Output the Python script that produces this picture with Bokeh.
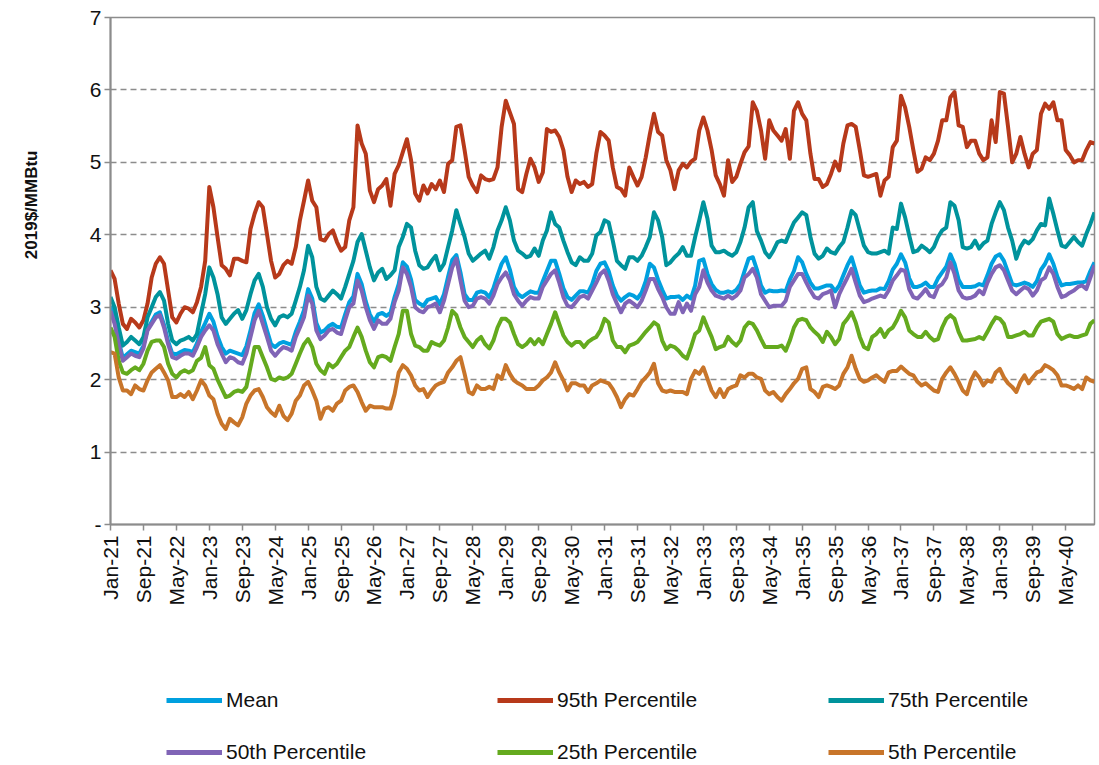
import math
from bokeh.plotting import figure
from bokeh.layouts import column
from bokeh.models import Range1d, FixedTicker, Legend, LegendItem
from bokeh.embed import file_html
from bokeh.resources import INLINE

# Monthly series, Jan-21 .. Dec-40 (one row per year), 2019$/MMBtu
mean = [
    3.02, 2.82, 2.53, 2.30, 2.35, 2.40, 2.38, 2.36, 2.47, 2.70, 2.80, 2.90,
    2.93, 2.76, 2.53, 2.36, 2.35, 2.38, 2.41, 2.40, 2.38, 2.50, 2.66, 2.78,
    2.91, 2.80, 2.60, 2.45, 2.36, 2.40, 2.38, 2.36, 2.34, 2.46, 2.68, 2.92,
    3.04, 2.88, 2.68, 2.49, 2.45, 2.50, 2.52, 2.50, 2.48, 2.66, 2.80, 2.96,
    3.25, 3.12, 2.78, 2.65, 2.68, 2.74, 2.77, 2.73, 2.72, 2.90, 3.07, 3.15,
    3.46, 3.32, 3.08, 2.90, 2.80, 2.90, 2.92, 2.88, 2.92, 3.14, 3.32, 3.62,
    3.56, 3.38, 3.10, 3.05, 3.02, 3.10, 3.12, 3.14, 3.04, 3.18, 3.42, 3.65,
    3.72, 3.48, 3.18, 3.10, 3.10, 3.20, 3.22, 3.20, 3.14, 3.26, 3.44, 3.60,
    3.69, 3.52, 3.28, 3.18, 3.14, 3.18, 3.22, 3.20, 3.20, 3.36, 3.50, 3.64,
    3.64, 3.46, 3.26, 3.14, 3.10, 3.16, 3.22, 3.22, 3.20, 3.32, 3.50, 3.60,
    3.62, 3.50, 3.30, 3.16, 3.09, 3.14, 3.18, 3.16, 3.12, 3.20, 3.36, 3.60,
    3.55, 3.38, 3.24, 3.12, 3.14, 3.14, 3.15, 3.10, 3.16, 3.12, 3.30, 3.64,
    3.66, 3.46, 3.32, 3.24, 3.20, 3.20, 3.22, 3.20, 3.24, 3.32, 3.50, 3.67,
    3.69, 3.52, 3.30, 3.20, 3.23, 3.22, 3.22, 3.23, 3.22, 3.38, 3.50, 3.69,
    3.62, 3.46, 3.34, 3.26, 3.26, 3.28, 3.30, 3.30, 3.22, 3.30, 3.44, 3.58,
    3.69, 3.50, 3.30, 3.20, 3.22, 3.23, 3.23, 3.26, 3.25, 3.36, 3.52, 3.60,
    3.73, 3.62, 3.40, 3.28, 3.28, 3.30, 3.34, 3.28, 3.28, 3.40, 3.48, 3.56,
    3.73, 3.60, 3.38, 3.28, 3.28, 3.28, 3.29, 3.32, 3.30, 3.44, 3.60, 3.70,
    3.73, 3.64, 3.48, 3.32, 3.30, 3.32, 3.34, 3.32, 3.28, 3.36, 3.52, 3.60,
    3.73, 3.60, 3.42, 3.30, 3.32, 3.32, 3.33, 3.34, 3.34, 3.36, 3.50, 3.62,
]

p95 = [
    3.51, 3.39, 3.05, 2.77, 2.70, 2.84, 2.79, 2.72, 2.82, 3.05, 3.41, 3.60,
    3.69, 3.60, 3.23, 2.86, 2.79, 2.91, 3.00, 2.98, 2.93, 3.07, 3.28, 3.64,
    4.66, 4.38, 3.97, 3.58, 3.53, 3.44, 3.67, 3.67, 3.64, 3.62, 4.08, 4.29,
    4.45, 4.38, 4.01, 3.64, 3.41, 3.46, 3.58, 3.64, 3.60, 3.83, 4.20, 4.47,
    4.75, 4.47, 4.38, 3.94, 3.92, 4.01, 4.06, 3.90, 3.78, 3.83, 4.20, 4.38,
    5.51, 5.26, 5.12, 4.61, 4.45, 4.63, 4.68, 4.77, 4.40, 4.84, 4.96, 5.14,
    5.32, 5.03, 4.57, 4.47, 4.68, 4.57, 4.70, 4.63, 4.75, 4.59, 4.98, 5.03,
    5.49, 5.51, 5.17, 4.80, 4.68, 4.59, 4.82, 4.77, 4.75, 4.77, 4.93, 5.49,
    5.85, 5.69, 5.53, 4.63, 4.59, 4.84, 5.05, 4.93, 4.73, 4.86, 5.46, 5.42,
    5.44, 5.35, 5.17, 4.80, 4.59, 4.75, 4.70, 4.73, 4.66, 4.70, 5.12, 5.42,
    5.37, 5.30, 4.93, 4.66, 4.63, 4.54, 4.93, 4.80, 4.68, 4.80, 5.07, 5.39,
    5.67, 5.42, 5.37, 5.03, 4.89, 4.63, 4.89, 4.98, 4.93, 5.01, 5.05, 5.44,
    5.62, 5.44, 5.17, 4.82, 4.70, 4.54, 5.03, 4.73, 4.80, 4.98, 5.14, 5.22,
    5.83, 5.71, 5.44, 5.05, 5.58, 5.44, 5.37, 5.30, 5.46, 5.05, 5.71, 5.83,
    5.67, 5.58, 5.12, 4.77, 4.77, 4.66, 4.70, 4.84, 5.01, 4.89, 5.26, 5.51,
    5.53, 5.49, 5.17, 4.82, 4.80, 4.82, 4.84, 4.54, 4.75, 4.80, 5.21, 5.30,
    5.92, 5.76, 5.49, 5.17, 4.87, 4.91, 5.07, 5.03, 5.12, 5.30, 5.58, 5.58,
    5.90, 5.97, 5.51, 5.49, 5.21, 5.30, 5.30, 5.12, 5.03, 5.07, 5.58, 5.28,
    5.97, 5.95, 5.49, 5.00, 5.12, 5.35, 5.12, 4.93, 5.12, 5.17, 5.67, 5.81,
    5.74, 5.83, 5.58, 5.58, 5.17, 5.10, 5.00, 5.03, 5.03, 5.17, 5.28, 5.26,
]

p75 = [
    3.14, 3.00, 2.72, 2.47, 2.52, 2.59, 2.54, 2.49, 2.59, 2.86, 3.00, 3.14,
    3.21, 3.09, 2.77, 2.54, 2.49, 2.54, 2.56, 2.59, 2.54, 2.63, 2.91, 3.18,
    3.55, 3.41, 3.18, 2.86, 2.77, 2.84, 2.91, 2.96, 2.84, 2.96, 3.18, 3.37,
    3.46, 3.28, 3.00, 2.84, 2.75, 2.86, 2.89, 2.86, 2.91, 3.09, 3.28, 3.51,
    3.85, 3.69, 3.28, 3.12, 3.09, 3.16, 3.23, 3.18, 3.12, 3.28, 3.46, 3.64,
    3.90, 4.01, 3.78, 3.55, 3.37, 3.48, 3.53, 3.39, 3.44, 3.51, 3.83, 3.97,
    4.15, 4.10, 3.78, 3.58, 3.53, 3.55, 3.64, 3.71, 3.51, 3.60, 3.83, 4.06,
    4.34, 4.15, 3.97, 3.74, 3.64, 3.69, 3.74, 3.78, 3.67, 3.83, 4.06, 4.20,
    4.38, 4.20, 3.92, 3.78, 3.74, 3.69, 3.71, 3.81, 3.71, 3.92, 4.06, 4.31,
    4.15, 4.10, 3.92, 3.76, 3.62, 3.58, 3.69, 3.64, 3.64, 3.74, 3.99, 4.04,
    4.20, 4.17, 3.92, 3.64, 3.58, 3.53, 3.69, 3.69, 3.64, 3.71, 3.83, 3.97,
    4.31, 4.20, 3.97, 3.58, 3.62, 3.69, 3.74, 3.83, 3.71, 3.71, 3.97, 4.20,
    4.45, 4.22, 3.85, 3.76, 3.76, 3.78, 3.74, 3.71, 3.76, 3.90, 4.10, 4.38,
    4.45, 4.05, 3.92, 3.76, 3.69, 3.78, 3.90, 3.92, 3.90, 4.04, 4.17, 4.24,
    4.31, 4.27, 3.97, 3.74, 3.67, 3.71, 3.81, 3.76, 3.74, 3.83, 3.90, 4.10,
    4.33, 4.27, 4.06, 3.85, 3.76, 3.74, 3.74, 3.76, 3.78, 3.74, 4.10, 4.08,
    4.43, 4.24, 3.99, 3.76, 3.78, 3.85, 3.81, 3.76, 3.83, 3.97, 4.06, 4.10,
    4.45, 4.40, 4.20, 3.83, 3.81, 3.83, 3.92, 3.81, 3.88, 3.92, 4.15, 4.31,
    4.45, 4.34, 4.10, 3.92, 3.67, 3.83, 3.92, 3.88, 3.94, 4.06, 4.15, 4.13,
    4.50, 4.29, 4.06, 3.85, 3.83, 3.90, 3.97, 3.90, 3.85, 4.01, 4.15, 4.31,
]

p50 = [
    2.95, 2.77, 2.49, 2.26, 2.31, 2.36, 2.33, 2.31, 2.43, 2.68, 2.77, 2.86,
    2.89, 2.72, 2.49, 2.31, 2.29, 2.33, 2.36, 2.36, 2.33, 2.45, 2.59, 2.68,
    2.75, 2.68, 2.49, 2.36, 2.24, 2.31, 2.29, 2.24, 2.22, 2.36, 2.59, 2.82,
    2.95, 2.77, 2.59, 2.40, 2.33, 2.40, 2.45, 2.43, 2.40, 2.59, 2.72, 2.86,
    3.16, 3.05, 2.68, 2.56, 2.61, 2.68, 2.70, 2.65, 2.63, 2.82, 3.00, 3.05,
    3.37, 3.23, 3.00, 2.82, 2.70, 2.82, 2.77, 2.77, 2.84, 3.07, 3.23, 3.55,
    3.46, 3.28, 3.00, 2.95, 2.93, 3.00, 3.02, 3.05, 2.93, 3.09, 3.32, 3.55,
    3.67, 3.37, 3.09, 3.00, 3.02, 3.12, 3.14, 3.12, 3.05, 3.16, 3.32, 3.41,
    3.48, 3.37, 3.18, 3.09, 3.02, 3.09, 3.14, 3.12, 3.12, 3.28, 3.37, 3.46,
    3.51, 3.34, 3.14, 3.02, 3.00, 3.07, 3.14, 3.16, 3.12, 3.23, 3.34, 3.46,
    3.51, 3.37, 3.18, 3.05, 2.93, 3.05, 3.09, 3.05, 3.00, 3.09, 3.23, 3.39,
    3.39, 3.25, 3.14, 3.00, 2.91, 2.91, 3.07, 2.93, 3.05, 2.95, 3.18, 3.28,
    3.51, 3.34, 3.23, 3.16, 3.14, 3.12, 3.16, 3.12, 3.16, 3.23, 3.41, 3.46,
    3.53, 3.41, 3.18, 3.09, 3.00, 3.02, 3.02, 3.02, 3.09, 3.28, 3.37, 3.46,
    3.46, 3.34, 3.23, 3.14, 3.12, 3.18, 3.20, 3.23, 3.00, 3.18, 3.30, 3.41,
    3.53, 3.34, 3.16, 3.07, 3.09, 3.12, 3.14, 3.16, 3.14, 3.23, 3.37, 3.44,
    3.52, 3.50, 3.25, 3.14, 3.12, 3.18, 3.25, 3.16, 3.14, 3.28, 3.32, 3.41,
    3.62, 3.46, 3.23, 3.14, 3.12, 3.13, 3.16, 3.23, 3.18, 3.34, 3.46, 3.55,
    3.58, 3.51, 3.37, 3.23, 3.18, 3.23, 3.28, 3.25, 3.16, 3.23, 3.37, 3.41,
    3.55, 3.46, 3.28, 3.14, 3.16, 3.20, 3.23, 3.28, 3.30, 3.25, 3.41, 3.58,
]

p25 = [
    2.72, 2.59, 2.26, 2.10, 2.08, 2.13, 2.17, 2.13, 2.22, 2.40, 2.52, 2.54,
    2.54, 2.45, 2.22, 2.08, 2.03, 2.10, 2.13, 2.10, 2.13, 2.26, 2.30, 2.45,
    2.20, 2.15, 2.00, 1.88, 1.76, 1.78, 1.83, 1.85, 1.83, 1.90, 2.17, 2.45,
    2.45, 2.31, 2.17, 2.01, 1.99, 2.03, 2.01, 2.03, 2.08, 2.22, 2.36, 2.49,
    2.56, 2.45, 2.22, 2.13, 2.08, 2.22, 2.17, 2.22, 2.31, 2.40, 2.45, 2.59,
    2.72, 2.59, 2.40, 2.24, 2.17, 2.31, 2.33, 2.31, 2.26, 2.45, 2.63, 2.95,
    2.95, 2.63, 2.47, 2.45, 2.40, 2.40, 2.52, 2.49, 2.47, 2.54, 2.72, 2.95,
    2.89, 2.72, 2.59, 2.52, 2.45, 2.54, 2.59, 2.49, 2.43, 2.54, 2.72, 2.84,
    2.84, 2.79, 2.63, 2.49, 2.45, 2.49, 2.56, 2.49, 2.56, 2.49, 2.63, 2.77,
    2.93, 2.77, 2.61, 2.52, 2.47, 2.52, 2.52, 2.45, 2.52, 2.56, 2.59, 2.68,
    2.84, 2.79, 2.54, 2.45, 2.45, 2.38, 2.47, 2.49, 2.52, 2.59, 2.66, 2.72,
    2.79, 2.75, 2.54, 2.42, 2.47, 2.45, 2.40, 2.33, 2.29, 2.45, 2.63, 2.68,
    2.86, 2.72, 2.59, 2.42, 2.45, 2.47, 2.59, 2.52, 2.47, 2.54, 2.72, 2.79,
    2.77, 2.68, 2.56, 2.45, 2.45, 2.45, 2.45, 2.47, 2.40, 2.54, 2.72, 2.82,
    2.84, 2.82, 2.72, 2.66, 2.61, 2.52, 2.66, 2.59, 2.49, 2.56, 2.77, 2.84,
    2.93, 2.79, 2.59, 2.45, 2.42, 2.59, 2.63, 2.70, 2.59, 2.68, 2.72, 2.82,
    2.95, 2.86, 2.68, 2.63, 2.59, 2.59, 2.66, 2.59, 2.54, 2.56, 2.72, 2.84,
    2.89, 2.84, 2.66, 2.54, 2.54, 2.55, 2.56, 2.59, 2.56, 2.66, 2.77, 2.86,
    2.84, 2.77, 2.59, 2.59, 2.61, 2.63, 2.66, 2.61, 2.61, 2.72, 2.80, 2.82,
    2.84, 2.80, 2.63, 2.56, 2.59, 2.61, 2.59, 2.59, 2.61, 2.63, 2.77, 2.82,
]

p05 = [
    2.38, 2.36, 2.03, 1.85, 1.85, 1.80, 1.92, 1.87, 1.85, 1.99, 2.10, 2.15,
    2.20, 2.10, 1.99, 1.76, 1.76, 1.80, 1.76, 1.83, 1.73, 1.85, 1.99, 1.92,
    1.78, 1.73, 1.53, 1.39, 1.32, 1.46, 1.41, 1.37, 1.48, 1.67, 1.78, 1.85,
    1.87, 1.76, 1.62, 1.55, 1.50, 1.64, 1.50, 1.44, 1.53, 1.71, 1.78, 1.92,
    1.97, 1.85, 1.71, 1.46, 1.60, 1.62, 1.57, 1.67, 1.71, 1.85, 1.90, 1.92,
    1.83, 1.69, 1.57, 1.64, 1.62, 1.62, 1.62, 1.60, 1.60, 1.80, 2.10, 2.20,
    2.15, 2.06, 1.92, 1.85, 1.87, 1.76, 1.85, 1.92, 1.95, 1.97, 2.10, 2.17,
    2.26, 2.31, 2.08, 1.83, 1.80, 1.92, 1.87, 1.87, 1.90, 1.87, 2.06, 2.01,
    2.20, 2.08, 1.99, 1.95, 1.92, 1.87, 1.87, 1.87, 1.92, 1.99, 2.03, 2.10,
    2.24, 2.10, 1.99, 1.85, 1.95, 1.95, 1.92, 1.92, 1.83, 1.92, 1.95, 1.99,
    1.97, 1.95, 1.87, 1.76, 1.62, 1.73, 1.80, 1.78, 1.87, 1.97, 2.03, 2.10,
    2.22, 1.95, 1.85, 1.83, 1.85, 1.83, 1.83, 1.83, 1.80, 2.01, 2.12, 2.08,
    2.17, 2.01, 1.85, 1.76, 1.87, 1.76, 1.87, 1.90, 1.92, 2.06, 2.03, 2.08,
    2.08, 2.03, 2.01, 1.85, 1.80, 1.83, 1.76, 1.71, 1.80, 1.87, 1.95, 2.01,
    2.15, 2.17, 1.87, 1.83, 1.76, 1.90, 1.92, 1.90, 1.87, 1.92, 2.08, 2.17,
    2.33, 2.15, 2.01, 1.97, 1.99, 2.03, 2.06, 2.01, 1.97, 2.10, 2.12, 2.12,
    2.18, 2.13, 2.08, 2.06, 1.97, 1.92, 1.95, 1.90, 1.85, 1.83, 2.01, 2.10,
    2.17, 2.08, 1.97, 1.85, 1.80, 1.99, 2.10, 2.03, 1.92, 1.99, 1.97, 2.10,
    2.15, 2.03, 1.95, 1.90, 1.83, 1.97, 2.06, 1.95, 2.03, 2.10, 2.12, 2.20,
    2.17, 2.13, 2.06, 1.92, 1.92, 1.90, 1.87, 1.92, 1.87, 2.03, 1.99, 1.97,
]

tick_labels = ["Jan-21", "Sep-21", "May-22", "Jan-23", "Sep-23", "May-24", "Jan-25",
               "Sep-25", "May-26", "Jan-27", "Sep-27", "May-28", "Jan-29", "Sep-29",
               "May-30", "Jan-31", "Sep-31", "May-32", "Jan-33", "Sep-33", "May-34",
               "Jan-35", "Sep-35", "May-36", "Jan-37", "Sep-37", "May-38", "Jan-39",
               "Sep-39", "May-40"]
y_ticks = [0, 1, 2, 3, 4, 5, 6, 7]
y_title = "2019$/MMBtu"

series_names = ["Mean", "95th Percentile", "75th Percentile",
                "50th Percentile", "25th Percentile", "5th Percentile"]
series_colors = ["#00A0DF", "#B7391A", "#00939C", "#8064B6", "#64AA1E", "#C8752A"]
series_values = [mean, p95, p75, p50, p25, p05]

months = list(range(len(mean)))
tick_positions = [8 * i for i in range(len(tick_labels))]

FONT = "Liberation Sans"
GRAY = "#8c8c8c"
TXT = "#111111"
W = 1098
H_MAIN = 620
H_LEG = 144

# ---------------- main chart ----------------
p = figure(width=W, height=H_MAIN, output_backend="svg", toolbar_location=None,
           x_range=Range1d(0, len(months) - 1), y_range=Range1d(0, 7),
           min_border_left=110, min_border_right=4, min_border_top=17,
           min_border_bottom=H_MAIN - 524)
p.background_fill_color = "white"
p.border_fill_color = "white"
p.outline_line_color = GRAY
p.outline_line_width = 1.5

p.xgrid.visible = False
p.ygrid.ticker = FixedTicker(ticks=[1, 2, 3, 4, 5, 6])
p.ygrid.grid_line_color = GRAY
p.ygrid.grid_line_dash = "6 4"
p.ygrid.grid_line_width = 1.5

p.yaxis.ticker = FixedTicker(ticks=y_ticks)
p.yaxis.major_label_overrides = {0: "-"}
p.xaxis.ticker = FixedTicker(ticks=tick_positions)
p.xaxis.major_label_overrides = {pos: lab for pos, lab in zip(tick_positions, tick_labels)}
p.xaxis.major_label_orientation = math.pi / 2

for ax in (p.xaxis[0], p.yaxis[0]):
    ax.axis_line_color = GRAY
    ax.axis_line_width = 2
    ax.major_tick_line_color = GRAY
    ax.major_tick_line_width = 1.5
    ax.major_tick_out = 6
    ax.major_tick_in = 0
    ax.minor_tick_line_color = None
    ax.major_label_text_font = FONT
    ax.major_label_text_color = TXT
p.yaxis.major_label_text_font_size = "21px"
p.yaxis.major_label_standoff = 3
p.xaxis.major_label_text_font_size = "21px"
p.xaxis.major_label_standoff = 5

# y-axis title; leading no-break spaces lift it above the axis centre as in the original
p.yaxis.axis_label = "\u00a0" * 28 + y_title
p.yaxis.axis_label_text_font = FONT
p.yaxis.axis_label_text_font_size = "17px"
p.yaxis.axis_label_text_font_style = "bold"
p.yaxis.axis_label_text_color = TXT
p.yaxis.axis_label_standoff = 46

for vals, col in zip(series_values, series_colors):
    p.line(months, vals, line_color=col, line_width=4, line_join="round")

# ---------------- legend strip (its lines sit outside its visible y-range) ----------------
lg = figure(width=W, height=H_LEG, output_backend="svg", toolbar_location=None,
            x_range=Range1d(0, len(months) - 1), y_range=Range1d(100, 101),
            min_border_left=0, min_border_right=0, min_border_top=0, min_border_bottom=0)
lg.axis.visible = False
lg.grid.visible = False
lg.outline_line_color = None
lg.background_fill_color = "white"
lg.border_fill_color = "white"

leg_renderers = [lg.line(months, vals, line_color=col, line_width=5)
                 for vals, col in zip(series_values, series_colors)]
items = [LegendItem(label=n, renderers=[r]) for n, r in zip(series_names, leg_renderers)]
legend = Legend(items=items, ncols=3, orientation="horizontal", location=(56, 0),
                glyph_width=56, glyph_height=24, label_height=24, label_width=243,
                label_standoff=4, spacing=28, padding=0, margin=0,
                border_line_color=None, background_fill_alpha=0,
                label_text_font=FONT, label_text_font_size="21px",
                label_text_color=TXT)
lg.add_layout(legend)

layout = column(p, lg, spacing=0)
open("out.html", "w").write(file_html(layout, INLINE))
